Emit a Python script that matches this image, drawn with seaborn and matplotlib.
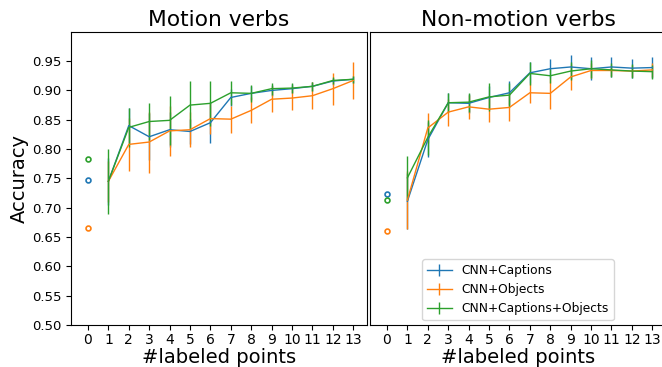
import matplotlib
matplotlib.use("Agg")
import matplotlib.pyplot as plt
import seaborn as sns

# number of labeled points
steps = list(range(1, 14))
methods = ["CNN+Captions", "CNN+Objects", "CNN+Captions+Objects"]

# Motion verbs: accuracy at 0 labeled points, curve means and errors
motion_zero = [0.747, 0.665, 0.783]
motion_captions = [0.745, 0.840, 0.821, 0.833, 0.830, 0.845, 0.888, 0.895, 0.900, 0.903, 0.907, 0.916, 0.919]
motion_captions_err = [0.040, 0.030, 0.040, 0.030, 0.021, 0.035, 0.015, 0.012, 0.010, 0.008, 0.008, 0.006, 0.006]
motion_objects = [0.745, 0.808, 0.812, 0.831, 0.833, 0.852, 0.851, 0.866, 0.885, 0.887, 0.891, 0.903, 0.917]
motion_objects_err = [0.035, 0.045, 0.052, 0.043, 0.030, 0.027, 0.023, 0.022, 0.022, 0.020, 0.023, 0.027, 0.031]
motion_both = [0.745, 0.837, 0.847, 0.849, 0.875, 0.878, 0.896, 0.895, 0.903, 0.904, 0.907, 0.917, 0.919]
motion_both_err = [0.055, 0.033, 0.032, 0.042, 0.041, 0.038, 0.020, 0.015, 0.010, 0.008, 0.008, 0.006, 0.006]

# Non-motion verbs
nonmotion_zero = [0.723, 0.661, 0.713]
nonmotion_captions = [0.711, 0.816, 0.879, 0.878, 0.888, 0.896, 0.930, 0.937, 0.940, 0.937, 0.940, 0.938, 0.939]
nonmotion_captions_err = [0.048, 0.030, 0.016, 0.016, 0.020, 0.020, 0.018, 0.016, 0.020, 0.020, 0.017, 0.016, 0.018]
nonmotion_objects = [0.713, 0.836, 0.863, 0.872, 0.868, 0.871, 0.896, 0.895, 0.923, 0.934, 0.934, 0.933, 0.935]
nonmotion_objects_err = [0.050, 0.026, 0.023, 0.020, 0.021, 0.023, 0.017, 0.027, 0.022, 0.012, 0.010, 0.010, 0.012]
nonmotion_both = [0.751, 0.820, 0.879, 0.880, 0.889, 0.892, 0.929, 0.925, 0.933, 0.937, 0.935, 0.933, 0.932]
nonmotion_both_err = [0.037, 0.030, 0.016, 0.016, 0.024, 0.020, 0.020, 0.012, 0.015, 0.015, 0.012, 0.012, 0.012]

yticks = [0.50, 0.55, 0.60, 0.65, 0.70, 0.75, 0.80, 0.85, 0.90, 0.95]

colors = sns.color_palette("tab10", 3)

panels = [
    ("Motion verbs", motion_zero,
     [(motion_captions, motion_captions_err), (motion_objects, motion_objects_err), (motion_both, motion_both_err)]),
    ("Non-motion verbs", nonmotion_zero,
     [(nonmotion_captions, nonmotion_captions_err), (nonmotion_objects, nonmotion_objects_err), (nonmotion_both, nonmotion_both_err)]),
]

fig = plt.figure(figsize=(6.62, 3.67), dpi=100)
ax1 = fig.add_axes([0.1073, 0.1144, 0.447, 0.799])
ax2 = fig.add_axes([0.559, 0.1144, 0.447, 0.799], sharey=ax1)

for ax, (title, zero, series) in zip([ax1, ax2], panels):
    for i, (vals, errs) in enumerate(series):
        ax.errorbar(steps, vals, yerr=errs, color=colors[i], lw=1, elinewidth=1, label=methods[i])
        ax.plot([0], [zero[i]], marker="o", ms=3.5, mfc="none", mew=1.2, color=colors[i], ls="none")
    ax.set_title(title, fontsize=15.7, pad=4)
    ax.set_xlabel("#labeled points", fontsize=14, labelpad=1)
    ax.set_xticks(range(0, 14))
    ax.set_xlim(-0.83, 13.67)
    ax.tick_params(axis="x", labelsize=10, pad=2)

ax1.set_ylim(0.5, 1.0)
ax1.set_yticks(yticks)
ax1.set_yticklabels([f"{t:.2f}" for t in yticks])
ax1.tick_params(axis="y", labelsize=9.5)
ax1.set_ylabel("Accuracy", fontsize=14, labelpad=2)
ax2.tick_params(axis="y", left=False, labelleft=False)

ax2.legend(loc="lower center", fontsize=8.8, borderaxespad=0.4)

fig.savefig("out.png", dpi=100)
plt.close()
